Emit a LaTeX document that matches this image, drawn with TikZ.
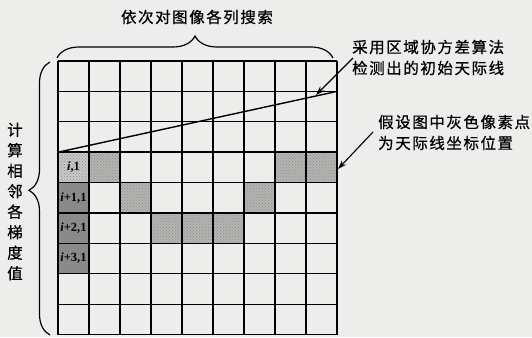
\documentclass[tikz,border=0pt]{standalone}
\usepackage{fontspec}
\newfontfamily\cjk[LetterSpace=10,FakeBold=0.6]{Noto Sans CJK SC}
\newfontfamily\cjkv[FakeBold=0.6]{Noto Sans CJK SC}
\setmainfont{Liberation Serif}
\usetikzlibrary{decorations.pathreplacing,arrows.meta,patterns}
\definecolor{paper}{HTML}{EDEDEB}
\definecolor{lightcell}{HTML}{C8C8C6}
\definecolor{midcell}{HTML}{B4B4B2}
\definecolor{darkcell}{HTML}{8A8A88}
\tikzset{
  gridline/.style={line width=1.4pt, black},
  bracestyle/.style={decorate, line width=1.2pt},
  callout/.style={line width=1.1pt, -{Stealth[length=9pt,width=6pt]}},
  cjktext/.style={font=\cjk\fontsize{15.5}{21}\selectfont, inner sep=0pt},
  celllabel/.style={font=\fontsize{12.5}{12.5}\selectfont\bfseries, inner sep=0pt}
}
\begin{document}
\begin{tikzpicture}[x=1pt,y=1pt]
\fill[paper] (0,0) rectangle (532,337);
\useasboundingbox (0,0) rectangle (532,337);
% grey cells: column/row (rows counted from top)
\foreach \c/\r/\col in {1/4/lightcell, 2/4/midcell, 8/4/midcell, 9/4/midcell,
  1/5/darkcell, 3/5/midcell, 7/5/midcell,
  1/6/darkcell, 4/6/midcell, 5/6/midcell, 6/6/midcell,
  1/7/darkcell}
  {\fill[\col] ({58+31*(\c-1)},{276-30.4*\r}) rectangle ++(31,30.4);
   \fill[pattern=crosshatch dots, pattern color=black!45] ({58+31*(\c-1)},{276-30.4*\r}) rectangle ++(31,30.4);}
% grid
\draw[gridline, shift={(58,2.4)}, xstep=31, ystep=30.4] (0,0) grid (279,273.6);
% cell labels
\node[celllabel] (l1) at (73.5,169.6) {\textit{i},1};
\node[celllabel] (l2) at (73.5,139.2) {\textit{i}+1,1};
\node[celllabel] (l3) at (73.5,108.8) {\textit{i}+2,1};
\node[celllabel] (l4) at (73.5,78.4) {\textit{i}+3,1};
% initial skyline
\coordinate (skyA) at (58,184.8);
\coordinate (skyB) at (337,245.6);
\draw[line width=1.4pt] (skyA) -- (skyB);
% top brace and text
\coordinate (tbL) at (57,279);
\coordinate (tbR) at (333,279);
\draw[bracestyle, decoration={brace, amplitude=22pt}] (tbL) -- (tbR);
\node[cjktext] (toptext) at (197,320) {依次对图像各列搜索};
% left brace and text
\coordinate (lbB) at (50,2);
\coordinate (lbT) at (50,275);
\draw[bracestyle, decoration={brace, amplitude=21pt, aspect=0.53}] (lbB) -- (lbT);
\node[cjktext, align=center, font=\cjkv\fontsize{15.5}{20.5}\selectfont] (lefttext) at (15,135.5)
  {计\\算\\相\\邻\\各\\梯\\度\\值};
% right texts
\node[cjktext, anchor=west, align=left] (rt1) at (352,279.5)
  {采用区域协方差算法\\检测出的初始天际线};
\node[cjktext, anchor=west, align=left] (rt2) at (378,204.5)
  {假设图中灰色像素点\\为天际线坐标位置};
\coordinate (a1s) at (353,279);
\coordinate (a1e) at (316,242);
\draw[callout] (a1s) -- (a1e);
\coordinate (a2s) at (373,205);
\coordinate (a2e) at (338,168);
\draw[callout] (a2s) -- (a2e);
\end{tikzpicture}
\end{document}
